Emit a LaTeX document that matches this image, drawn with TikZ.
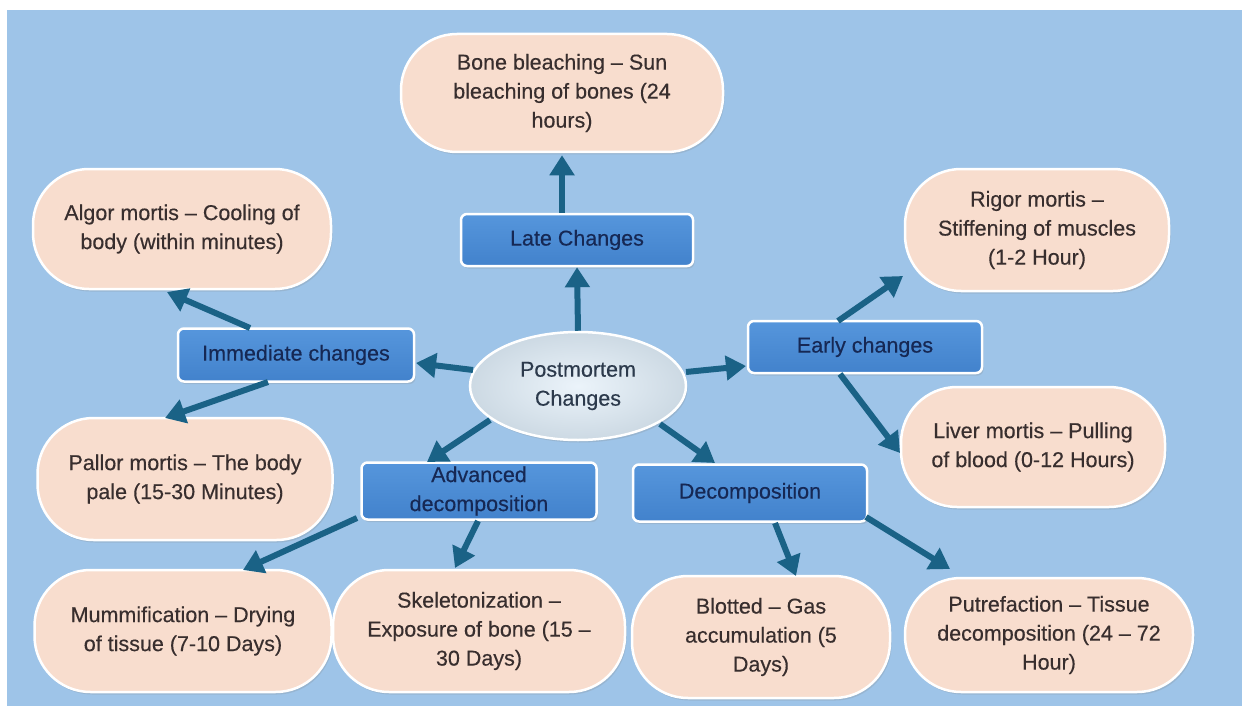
\documentclass[tikz,border=0pt]{standalone}
\usepackage{fontspec}
\setmainfont{Liberation Sans}
\newfontfamily\diagfont{Liberation Sans}[FakeBold=0.35]
\usetikzlibrary{calc,shapes.geometric,arrows.meta,shadows}
\definecolor{panel}{RGB}{158,196,232}
\definecolor{beigefill}{RGB}{248,221,206}
\definecolor{beigetext}{RGB}{56,46,46}
\definecolor{bluetop}{RGB}{86,150,220}
\definecolor{bluebot}{RGB}{66,130,204}
\definecolor{bluetext}{RGB}{22,40,84}
\definecolor{ellfill}{RGB}{222,236,247}
\definecolor{elltext}{RGB}{44,58,76}
\definecolor{arrowc}{RGB}{26,98,134}
\tikzset{
  txt/.style={font=\diagfont\fontsize{21.5}{29}\selectfont, align=center, inner sep=0pt},
  beige/.style={txt, draw=white, line width=2.5pt, fill=beigefill, text=beigetext,
    rounded corners=56pt,
    drop shadow={opacity=0.22, shadow xshift=1.5pt, shadow yshift=-2.5pt}},
  bluebox/.style={txt, draw=white, line width=2.5pt, top color=bluetop, bottom color=bluebot,
    text=bluetext, rounded corners=6pt,
    drop shadow={opacity=0.22, shadow xshift=1.5pt, shadow yshift=-2.5pt}},
  hub/.style={txt, ellipse, draw=white, line width=2.5pt, inner color=ellfill!60!white, outer color=ellfill!92!black,
    text=elltext,
    drop shadow={opacity=0.22, shadow xshift=1.5pt, shadow yshift=-2.5pt}},
  arr/.style={draw=arrowc, line width=6pt, -{Triangle[length=20pt,width=24pt]}}
}
\begin{document}
\begin{tikzpicture}[x=1pt,y=-1pt]
\useasboundingbox (0,0) rectangle (1242,706);
\fill[white] (0,0) rectangle (1242,706);
\fill[panel] (7,10) rectangle (1242,706);

% hub
\node[hub, minimum width=216pt, minimum height=108pt] (ell) at (578,386) {Postmortem\\Changes};

% category boxes
\node[bluebox, minimum width=232pt, minimum height=52pt] (late) at (577,240) {Late Changes};
\node[bluebox, minimum width=236pt, minimum height=53pt] (imm) at (296,355) {Immediate changes};
\node[bluebox, minimum width=234pt, minimum height=52pt] (early) at (865,347) {Early changes};
\node[bluebox, minimum width=235pt, minimum height=57pt] (adv) at (479,491) {Advanced\\decomposition};
\node[bluebox, minimum width=234pt, minimum height=57pt] (dec) at (750,493) {Decomposition};

% leaf boxes
\node[beige, minimum width=322pt, minimum height=118pt] (bone) at (562,93) {Bone bleaching – Sun\\bleaching of bones (24\\hours)};
\node[beige, minimum width=298pt, minimum height=120pt] (algor) at (182,229) {Algor mortis – Cooling of\\body (within minutes)};
\node[beige, minimum width=264pt, minimum height=122pt] (rigor) at (1037,230) {Rigor mortis –\\Stiffening of muscles\\(1-2 Hour)};
\node[beige, minimum width=264pt, minimum height=120pt] (liver) at (1033,447) {Liver mortis – Pulling\\of blood (0-12 Hours)};
\node[beige, minimum width=295pt, minimum height=122pt] (pallor) at (185,479) {Pallor mortis – The body\\pale (15-30 Minutes)};
\node[beige, minimum width=297pt, minimum height=122pt] (mumm) at (183,631) {Mummification – Drying\\of tissue (7-10 Days)};
\node[beige, minimum width=292pt, minimum height=122pt] (skel) at (479,631) {Skeletonization –\\Exposure of bone (15 –\\30 Days)};
\node[beige, minimum width=258pt, minimum height=122pt] (blot) at (761,637) {Blotted – Gas\\accumulation (5\\Days)};
\node[beige, minimum width=288pt, minimum height=114pt] (put) at (1049,635) {Putrefaction – Tissue\\decomposition (24 – 72\\Hour)};

% connectors
\draw[arr] (ell.north) -- (late.south);
\draw[arr] ($(late.north)+(-15,0)$) -- ($(bone.south)+(0,2)$);
\draw[arr] ($(ell.center)+(-105,-16)$) -- ($(imm.center)+(120,8)$);
\draw[arr] ($(imm.center)+(-46,-27)$) -- ($(algor.center)+(-15,63)$);
\draw[arr] ($(imm.center)+(-28,27)$) -- ($(pallor.center)+(-20,-61)$);
\draw[arr] ($(ell.center)+(108,-14)$) -- ($(early.center)+(-119,19)$);
\draw[arr] ($(early.center)+(-27,-26)$) -- ($(rigor.center)+(-134,46)$);
\draw[arr] ($(early.center)+(-25,27)$) -- ($(liver.center)+(-133,6)$);
\draw[arr] ($(ell.center)+(-88,34)$) -- ($(adv.center)+(-52,-29)$);
\draw[arr] ($(ell.center)+(82,38)$) -- ($(dec.center)+(-35,-30)$);
\draw[arr] ($(adv.center)+(-122,27)$) -- ($(mumm.center)+(60,-61)$);
\draw[arr] ($(adv.center)+(-1,30)$) -- ($(skel.center)+(-24,-63)$);
\draw[arr] ($(dec.center)+(25,30)$) -- ($(blot.center)+(35,-61)$);
\draw[arr] ($(dec.center)+(116,24)$) -- ($(put.center)+(-99,-66)$);
\end{tikzpicture}
\end{document}
